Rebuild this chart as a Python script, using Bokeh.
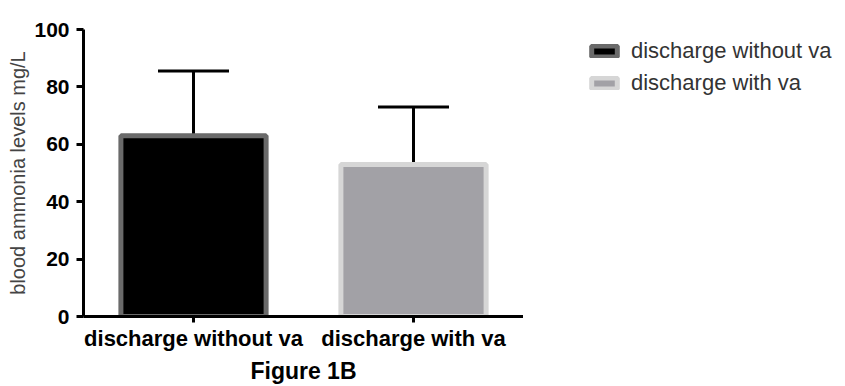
from bokeh.plotting import figure
from bokeh.layouts import row
from bokeh.models import (ColumnDataSource, Range1d, FactorRange, Whisker, TeeHead,
                          FixedTicker, CDSView, IndexFilter)
from bokeh.embed import file_html
from bokeh.resources import INLINE

groups = ["discharge without va", "discharge with va"]
means = [63.0, 53.0]
sd = [22.5, 20.0]
fill_colors = ["#000000", "#a2a1a6"]
line_colors = ["#6a6a6a", "#d6d6d6"]
y_ticks = [0, 20, 40, 60, 80, 100]
y_label = "blood ammonia levels mg/L"
x_label = "Figure 1B"

src = ColumnDataSource(dict(
    group=groups,
    mean=means,
    upper=[m + s for m, s in zip(means, sd)],
    fill=fill_colors,
    line=line_colors,
))

FONT = "Liberation Sans"

# ---- main chart ----
p = figure(
    width=523, height=386,
    x_range=FactorRange(*groups),
    y_range=Range1d(0, 100),
    output_backend="svg", toolbar_location=None,
    min_border_left=83, min_border_right=0,
    min_border_top=29, min_border_bottom=67,
)
p.outline_line_color = None
p.xgrid.grid_line_color = None
p.ygrid.grid_line_color = None

p.vbar(x="group", top="mean", width=0.66, source=src,
       fill_color="fill", line_color="line", line_width=5)

w = Whisker(base="group", upper="upper", lower="mean", source=src,
            dimension="height", line_color="#000000", line_width=3,
            upper_head=TeeHead(size=71, line_width=3, line_color="#000000"),
            lower_head=None)
p.add_layout(w)

for ax in (p.xaxis[0], p.yaxis[0]):
    ax.axis_line_width = 3
    ax.axis_line_color = "#000000"
    ax.major_tick_line_width = 3
    ax.major_tick_line_color = "#000000"
    ax.major_tick_in = 0
    ax.major_tick_out = 7
    ax.minor_tick_line_color = None
    ax.major_label_text_font = FONT
    ax.major_label_text_font_style = "bold"
    ax.major_label_text_color = "#000000"

p.yaxis.ticker = FixedTicker(ticks=y_ticks)
p.yaxis.major_label_text_font_size = "21px"
p.yaxis.major_label_standoff = 7
p.yaxis.axis_label = y_label
p.yaxis.axis_label_text_font = FONT
p.yaxis.axis_label_text_font_style = "normal"
p.yaxis.axis_label_text_font_size = "20px"
p.yaxis.axis_label_text_color = "#444444"
p.yaxis.axis_label_standoff = 2

p.xaxis.major_tick_out = 6
p.xaxis.major_label_text_font_size = "22px"
p.xaxis.major_label_standoff = 3
p.xaxis.axis_label = x_label
p.xaxis.axis_label_text_font = FONT
p.xaxis.axis_label_text_font_style = "bold"
p.xaxis.axis_label_text_font_size = "23px"
p.xaxis.axis_label_text_color = "#000000"
p.xaxis.axis_label_standoff = 4

# ---- legend panel: the same series as hidden renderers, legend shown normally ----
q = figure(
    width=322, height=386,
    x_range=FactorRange(*groups),
    y_range=Range1d(0, 100),
    output_backend="svg", toolbar_location=None,
    x_axis_location=None, y_axis_location=None,
    min_border=0,
)
q.outline_line_color = None
q.xgrid.grid_line_color = None
q.ygrid.grid_line_color = None
for i, g in enumerate(groups):
    r = q.vbar(x="group", top="mean", width=0.66, source=src,
               view=CDSView(filter=IndexFilter(indices=[i])),
               fill_color=fill_colors[i], line_color=line_colors[i], line_width=5,
               legend_label=g)
    r.visible = False

lg = q.legend[0]
lg.location = (65, 220)
lg.padding = 0
lg.margin = 0
lg.border_line_color = None
lg.background_fill_alpha = 0
lg.inactive_fill_alpha = 0
lg.glyph_width = 32
lg.glyph_height = 14
lg.label_standoff = 11
lg.label_height = 17
lg.spacing = 6
lg.label_text_font = FONT
lg.label_text_font_size = "22px"
lg.label_text_color = "#333333"

layout = row(p, q, spacing=0)
open("out.html", "w").write(file_html(layout, INLINE))
